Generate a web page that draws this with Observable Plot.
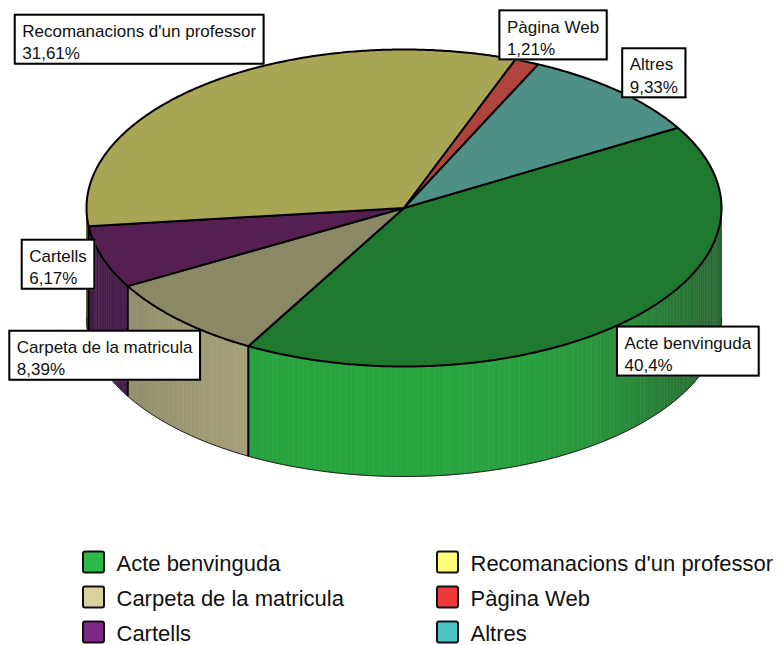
<!DOCTYPE html>
<html><head><meta charset="utf-8">
<script src="https://cdn.jsdelivr.net/npm/d3@7"></script>
<script src="https://cdn.jsdelivr.net/npm/@observablehq/plot@0.6"></script>
<style>body{margin:0;background:#fff;}</style>
</head><body><div id="chart"></div>
<script>
// ---- data ----
const categories = ["Acte benvinguda","Carpeta de la matricula","Cartells","Recomanacions d'un professor","Pàgina Web","Altres"];
const values = [40.4, 8.39, 6.17, 31.61, 1.21, 9.33];
const percentLabels = ["40,4%","8,39%","6,17%","31,61%","1,21%","9,33%"];
// ---- styles ----
const legendColors = ["#2db84a","#d8d29c","#7c2a84","#ffff7a","#f03a3a","#4cc4c4"];
const topColors    = ["#1f7a30","#8a8865","#561f52","#a8a654","#b0443c","#4e8f86"];
const sideLight    = ["#29a540","#a6a37c","#56245b","#a09c58","#b04840","#4e8e86"];
const sideDark     = ["#2a6634","#7f7e5e","#3f1c43","#5e5c32","#7a3029","#35615c"];
// label box offsets (px) from the slice's mid-angle rim point
const labelOffsets = [[-13,8],[-170,11],[-80,-17],[-193,-68],[-27,-51],[5,-42]];

const W = 782, H = 645;
const cx = 403.5, cy = 207.5, rx = 317.5, ry = 158.5, depth = 110, startDeg = -30.4;
const rad = d => d * Math.PI / 180;
const P = (deg, dz = 0) => [cx + rx * Math.cos(rad(deg)), cy + ry * Math.sin(rad(deg)) + dz];

const total = d3.sum(values);
let acc = startDeg;
const slices = values.map((v, i) => {
  const a0 = acc, a1 = acc + v / total * 360; acc = a1;
  return {i, a0, a1, mid: (a0 + a1) / 2};
});

// top faces
const topPts = [];
for (const s of slices) {
  topPts.push({id: s.i, x: cx, y: cy, c: topColors[s.i]});
  const n = Math.max(2, Math.ceil((s.a1 - s.a0) / 0.5));
  for (let k = 0; k <= n; k++) {
    const [x, y] = P(s.a0 + (s.a1 - s.a0) * k / n);
    topPts.push({id: s.i, x, y, c: topColors[s.i]});
  }
  topPts.push({id: s.i, x: cx, y: cy, c: topColors[s.i]});
}

// side walls (front half visible: 0..180 deg)
function shade(th) {
  return th < 105 ? Math.exp(-Math.pow((th - 105) / 70, 4)) : Math.exp(-Math.pow((th - 105) / 50, 2));
}
const sidePts = [], edges = [], bottomArc = [];
let sid = 0;
for (const s of slices) {
  for (const off of [0, 360, -360]) {
    const lo = Math.max(s.a0 - off, 0), hi = Math.min(s.a1 - off, 180);
    if (hi <= lo) continue;
    const n = Math.max(1, Math.ceil(hi - lo));
    const interp = d3.interpolateRgb(sideDark[s.i], sideLight[s.i]);
    for (let k = 0; k < n; k++) {
      const t1 = lo + (hi - lo) * k / n, t2 = lo + (hi - lo) * (k + 1) / n;
      const c = interp(shade((t1 + t2) / 2));
      const quad = [P(t1), P(t2), P(t2, depth), P(t1, depth), P(t1)];
      for (const [x, y] of quad) sidePts.push({id: sid, x, y, c});
      sid++;
    }
    if (lo > 0) edges.push({x1: P(lo)[0], y1: P(lo)[1], x2: P(lo, depth)[0], y2: P(lo, depth)[1]});
  }
}
for (let t = 0; t <= 180; t += 1) { const [x, y] = P(t, depth); bottomArc.push({x, y}); }

// labels
const ctx = document.createElement("canvas").getContext("2d");
ctx.font = "17px 'Liberation Sans', Arial, sans-serif";
const labels = slices.map(s => {
  const [ax, ay] = P(s.mid);
  const [ox, oy] = labelOffsets[s.i];
  const w = Math.max(ctx.measureText(categories[s.i]).width, ctx.measureText(percentLabels[s.i]).width);
  const x1 = ax + ox, y1 = ay + oy;
  return {x1, y1, x2: x1 + w + 15, y2: y1 + 49, text: categories[s.i] + "\n" + percentLabels[s.i]};
});

// legend (2 columns, column-major)
const legendColX = [83, 437], legendRowY = 562, legendRowStep = 35;
const legend = categories.map((c, i) => ({
  name: c, color: legendColors[i],
  x: legendColX[Math.floor(i / 3)], y: legendRowY + (i % 3) * legendRowStep
}));

const chart = Plot.plot({
  width: W, height: H, margin: 0,
  x: {domain: [0, W], range: [0, W], axis: null},
  y: {domain: [0, H], range: [0, H], axis: null},
  color: {type: "identity"},
  style: {fontFamily: "'Liberation Sans', Arial, sans-serif", background: "#fff"},
  marks: [
    Plot.line(sidePts, {x: "x", y: "y", z: "id", fill: "c", stroke: "c", strokeWidth: 0.6}),
    Plot.line(bottomArc, {x: "x", y: "y", stroke: "#222", strokeWidth: 1}),
    Plot.link(edges, {x1: "x1", y1: "y1", x2: "x2", y2: "y2", stroke: "#000", strokeWidth: 2}),
    Plot.line(topPts, {x: "x", y: "y", z: "id", fill: "c", stroke: "#000", strokeWidth: 2, strokeLinejoin: "round"}),
    Plot.rect(labels, {x1: d => d.x1 + 1.5, x2: d => d.x2 + 1.5, y1: d => d.y1 + 1.5, y2: d => d.y2 + 1.5, fill: "#9a9a9a", fillOpacity: 0.5}),
    Plot.rect(labels, {x1: "x1", x2: "x2", y1: "y1", y2: "y2", fill: "#fff", stroke: "#000", strokeWidth: 2}),
    Plot.text(labels, {x: d => d.x1 + 7, y: d => d.y1 + 6, text: "text", textAnchor: "start", lineAnchor: "top", lineHeight: 1.3, fontSize: 17, fill: "#111"}),
    Plot.rect(legend, {x1: "x", x2: d => d.x + 21, y1: d => d.y - 10.5, y2: d => d.y + 10.5, fill: "color", stroke: "#111", strokeWidth: 2, rx: 2}),
    Plot.text(legend, {x: d => d.x + 33, y: "y", text: "name", textAnchor: "start", lineAnchor: "middle", dy: 1.5, fontSize: 22, fill: "#111"})
  ]
});
document.getElementById("chart").appendChild(chart);
</script>
</body></html>
